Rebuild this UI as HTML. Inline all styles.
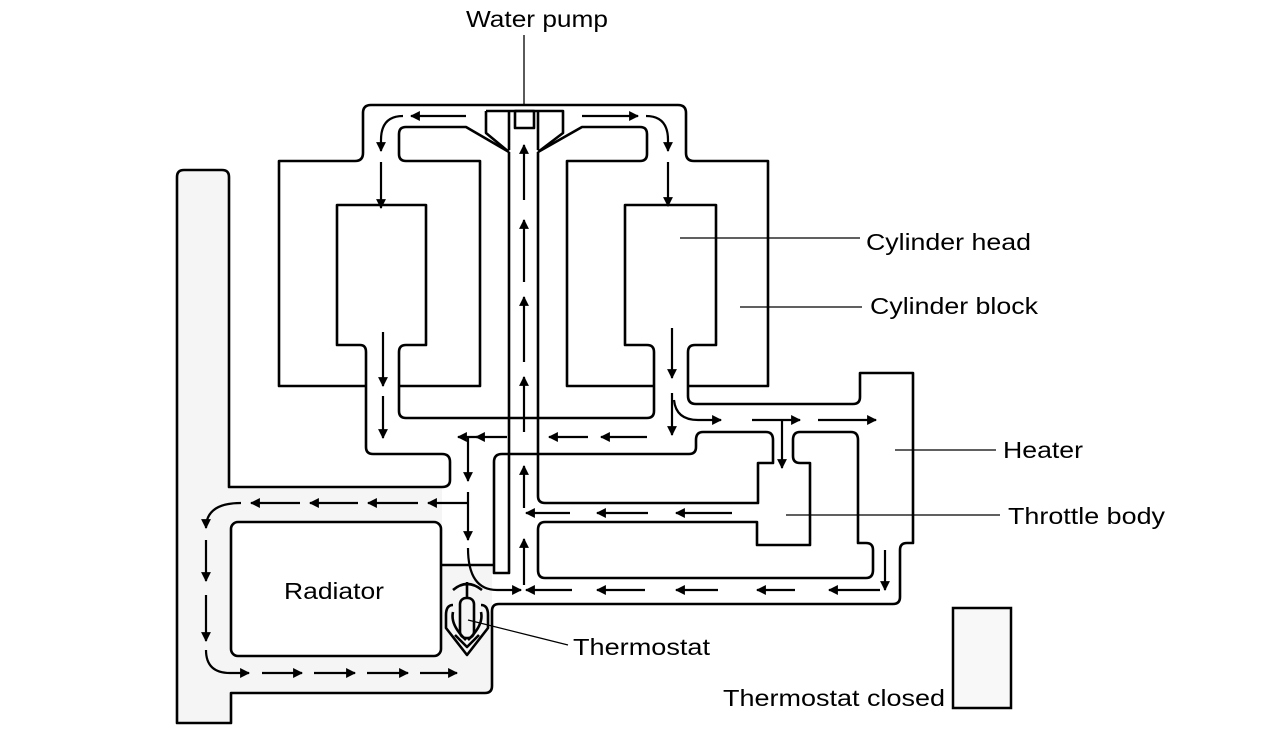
<!DOCTYPE html>
<html><head><meta charset="utf-8"><style>
html,body{margin:0;padding:0;background:#fff;}
svg{display:block}
text{font-family:"Liberation Sans",Arial,sans-serif;font-size:23px;fill:#000}
</style></head><body>
<svg width="1280" height="748" viewBox="0 0 1280 748" xmlns="http://www.w3.org/2000/svg">
<defs>
<marker id="a" viewBox="0 0 10 10" refX="9" refY="5" markerWidth="4.5" markerHeight="4.5" orient="auto" markerUnits="strokeWidth">
<path d="M0,0 L10,5 L0,10 z" fill="#000"/></marker>
</defs>
<path d="M177,177 Q177,170 184,170 H222 Q229,170 229,177 V487 H442 V565 H492 V686 Q492,693 485,693 H231 V723 H177 Z" fill="#f5f5f5"/>
<rect x="953" y="608" width="58" height="100" fill="#f8f8f8" stroke="#000" stroke-width="2.5"/>
<g fill="none" stroke="#000" stroke-width="2.6" stroke-linejoin="round">
<path d="M365,386 H279 V161 H355 Q363,161 363,153 V113 Q363,105 371,105 H678 Q686,105 686,113 V153 Q686,161 694,161 H768 V386 H688"/>
<path d="M654,386 H567 V161 H640 Q647,161 647,154 V134 Q647,127 640,127 H582 L538,152"/>
<path d="M509,152 L466,127 H406 Q399,127 399,134 V154 Q399,161 406,161 H480 V386 H399"/>
<path d="M486,111 H563 V133 L538,152 M486,111 V133 L509,152 M509,111 V150 M538,111 V150"/>
<rect x="515" y="111" width="19" height="17"/>
<path d="M360,345 H337 V205 H426 V345 H406 Q399,345 399,352 V411 Q399,418 406,418 H647 Q654,418 654,411 V352 Q654,345 647,345 H625 V205 H716 V345 H695 Q688,345 688,352 V396 Q688,404 696,404 H853 Q860,404 860,397 V373 H913 V543 H907 Q900,543 900,550 V597 Q900,604 893,604 H499 Q492,604 492,611 V686 Q492,693 485,693 H231 V723 H177 V177 Q177,170 184,170 H222 Q229,170 229,177 V487 H442 Q450,487 450,480 V462 Q450,454 442,454 H373 Q366,454 366,447 V352 Q366,345 360,345"/>
<path d="M538,152 V496 Q538,503 545,503 H758 V463 H773 V440 Q773,432 766,432 H703 Q696,432 696,440 V447 Q696,454 689,454 H502 Q494,454 494,462 V573 H509 V152"/>
<path d="M800,432 H851 Q858,432 858,440 V543 H866 Q873,543 873,550 V570 Q873,578 866,578 H545 Q538,578 538,570 V530 Q538,522 545,522 H757 V545 H810 V463 H800 Q793,463 793,456 V440 Q793,432 800,432"/>
<path d="M441,565 H494"/>
<rect x="231" y="522" width="210" height="134" rx="7" fill="#fff"/>
<path d="M453,590 Q467,578 482,590 M467,582 V598"/>
<rect x="460" y="598" width="14" height="40" rx="6"/>
<path d="M453,605 Q446,605 446,615 V628 L467,655 L488,628 V615 Q488,605 481,605"/>
<path d="M453,612 Q450,625 466,640 M481,612 Q484,625 468,640 M455,635 L467,647 L479,635"/>
</g>
<g stroke="#000" stroke-width="1.3">
<line x1="524" y1="35" x2="524" y2="105"/>
<line x1="680" y1="238" x2="860" y2="238"/>
<line x1="740" y1="307" x2="862" y2="307"/>
<line x1="895" y1="450" x2="996" y2="450"/>
<line x1="786" y1="515" x2="1000" y2="515"/>
<line x1="468" y1="620" x2="568" y2="645"/>
</g>
<g fill="none" stroke="#000" stroke-width="2.2" marker-end="url(#a)">
<path d="M466,116 H411"/>
<path d="M403,116 Q381,116 381,140 V151"/>
<path d="M381,162 V208"/>
<path d="M582,116 H638"/>
<path d="M646,116 Q668,116 668,140 V151"/>
<path d="M668,162 V206"/>
<path d="M383,332 V386"/>
<path d="M383,396 V438"/>
<path d="M672,328 V378"/>
<path d="M672,393 V435"/>
<path d="M674,400 Q676,420 698,420 H721"/>
<path d="M752,420 H800"/>
<path d="M818,420 H876"/>
<path d="M782,420 V468"/>
<path d="M524,200 V145"/>
<path d="M524,282 V220"/>
<path d="M524,362 V297"/>
<path d="M524,432 V377"/>
<path d="M524,508 V466"/>
<path d="M524,585 V539"/>
<path d="M507,437 H476"/>
<path d="M478,437 H458"/>
<path d="M647,437 H601"/>
<path d="M588,437 H549"/>
<path d="M468,437 V481"/>
<path d="M468,492 V540"/>
<path d="M468,548 Q468,590 497,590 H521"/>
<path d="M468,503 H428"/>
<path d="M418,503 H368"/>
<path d="M358,503 H310"/>
<path d="M300,503 H251"/>
<path d="M241,503 Q206,503 206,528"/>
<path d="M206,540 V581"/>
<path d="M206,595 V641"/>
<path d="M206,650 Q206,673 230,673 H249"/>
<path d="M262,673 H302"/>
<path d="M314,673 H355"/>
<path d="M367,673 H408"/>
<path d="M420,673 H457"/>
<path d="M570,513 H526"/>
<path d="M648,513 H597"/>
<path d="M732,513 H676"/>
<path d="M572,590 H526"/>
<path d="M645,590 H597"/>
<path d="M718,590 H676"/>
<path d="M795,590 H757"/>
<path d="M880,590 H829"/>
<path d="M885,550 V590"/>
</g>
<text x="466" y="27" textLength="142" lengthAdjust="spacingAndGlyphs">Water pump</text>
<text x="866" y="250" textLength="165" lengthAdjust="spacingAndGlyphs">Cylinder head</text>
<text x="870" y="314" textLength="168" lengthAdjust="spacingAndGlyphs">Cylinder block</text>
<text x="1003" y="458" textLength="80" lengthAdjust="spacingAndGlyphs">Heater</text>
<text x="1008" y="524" textLength="157" lengthAdjust="spacingAndGlyphs">Throttle body</text>
<text x="284" y="599" textLength="100" lengthAdjust="spacingAndGlyphs">Radiator</text>
<text x="573" y="655" textLength="137" lengthAdjust="spacingAndGlyphs">Thermostat</text>
<text x="723" y="706" textLength="222" lengthAdjust="spacingAndGlyphs">Thermostat closed</text>
</svg>
</body></html>
